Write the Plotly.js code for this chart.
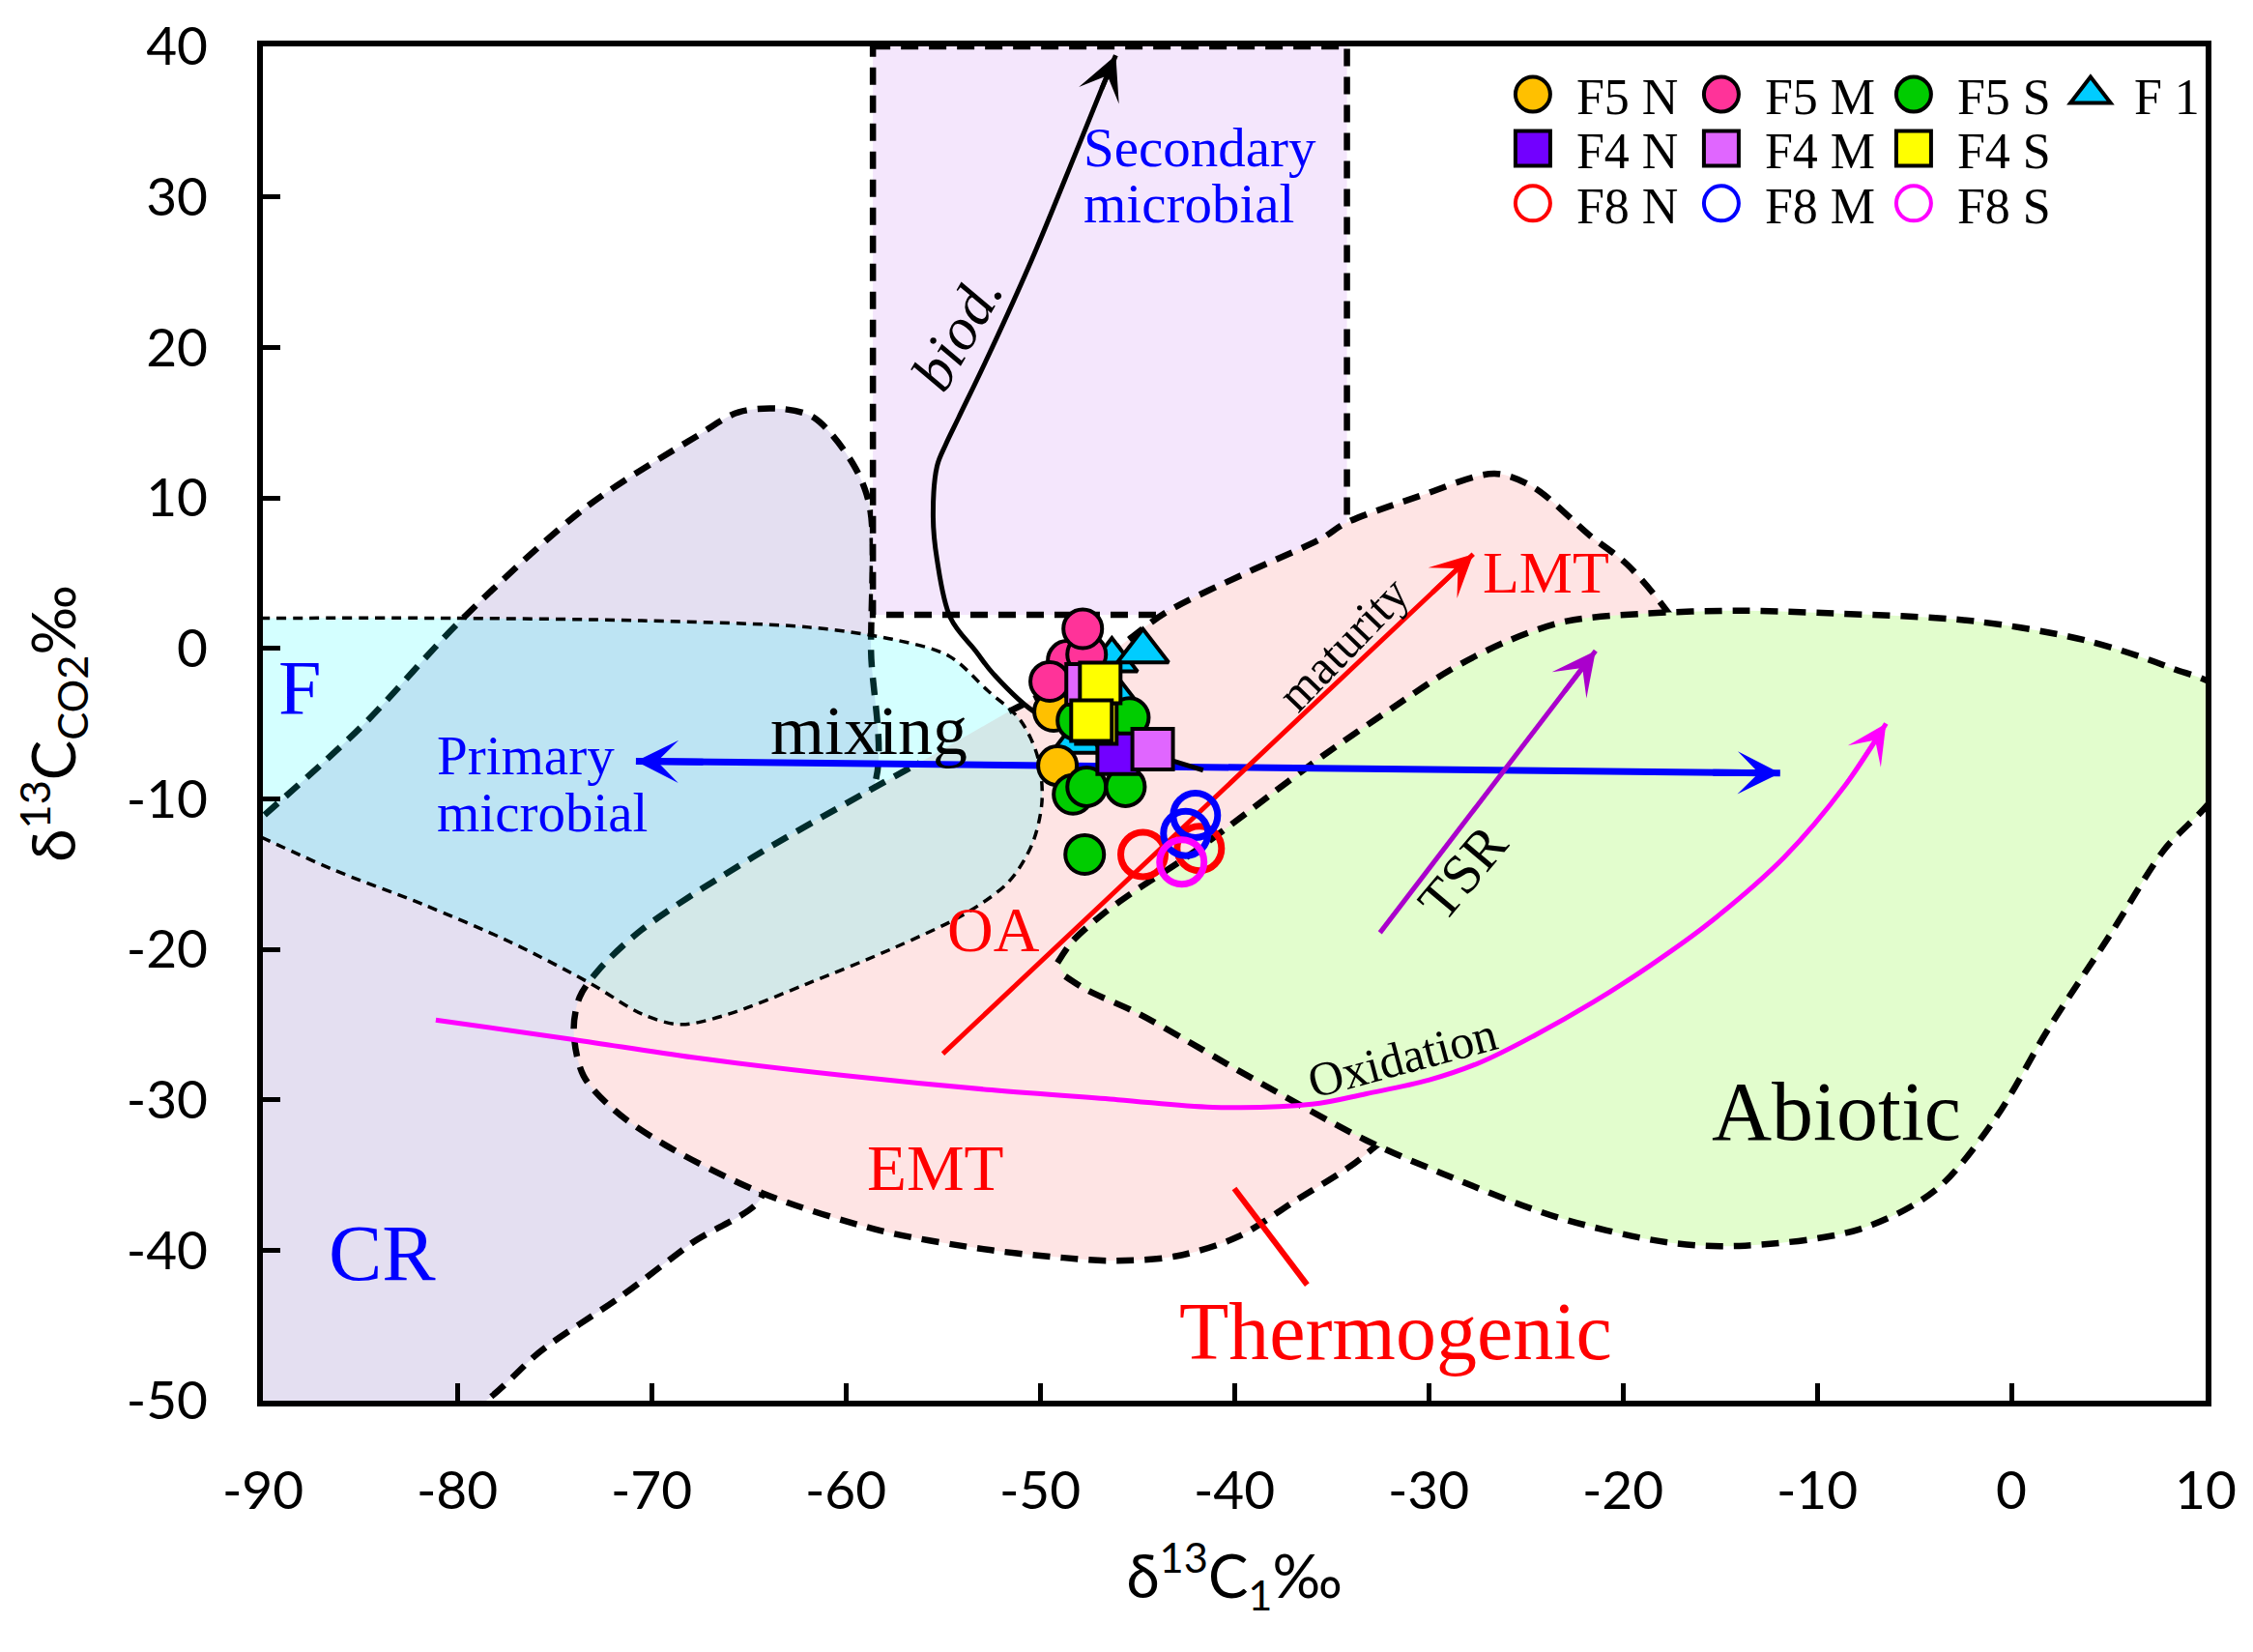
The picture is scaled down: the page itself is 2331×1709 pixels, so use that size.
<!DOCTYPE html>
<html>
<head>
<meta charset="utf-8">
<script src="https://cdn.plot.ly/plotly-3.0.1.min.js"></script>
<style>html,body{margin:0;padding:0;background:#fff}#chart{width:2331px;height:1709px}</style>
</head>
<body>
<div id="chart"></div>
<script>
// ---------------- axis ticks ----------------
const xTickVals = [-90, -80, -70, -60, -50, -40, -30, -20, -10, 0, 10];
const yTickVals = [-50, -40, -30, -20, -10, 0, 10, 20, 30, 40];
const xTickText = xTickVals.map(v => String(v));
const yTickText = yTickVals.map(v => String(v));

// ---------------- sample points (δ13C1, δ13CCO2) ----------------
const f1X  = [-46.3, -46.0, -48.1, -44.7];
const f1Y  = [-0.8, -3.4, -6.2, -0.2];
const f5nX = [-49.3, -49.1];
const f5nY = [-4.2, -7.8];
const f5mX = [-48.6, -49.5, -47.6, -47.8];
const f5mY = [-0.8, -2.2, -0.4, 1.3];
const f5sX = [-48.1, -45.4, -48.3, -47.6, -45.6, -47.7];
const f5sY = [-4.8, -4.6, -9.7, -9.2, -9.2, -13.7];
const f4nX = [-46.0];
const f4nY = [-7.0];
const f4mX = [-47.6, -44.2];
const f4mY = [-2.4, -6.7];
const f4sX = [-47.1, -46.9, -47.35];
const f4sY = [-5.0, -2.3, -4.8];
const f8nX = [-44.7, -41.8];
const f8nY = [-13.7, -13.3];
const f8mX = [-42.0, -42.5];
const f8mY = [-11.1, -12.3];
const f8sX = [-42.7];
const f8sY = [-14.2];

// ---------------- genetic fields (outlines) ----------------
const crX = [-91, -85.0, -79.7, -73.4, -67.6, -65.5, -63.2, -61.6, -59.6, -58.75, -58.7, -58.7, -64, -72, -72, -64.3, -68.0, -71.6, -75.5, -79.9, -91];
const crY = [-12.3, -5.3, 2.0, 9.34, 14.15, 15.7, 15.9, 15.3, 12.2, 9.3, 0, -9.6, -14, -22, -30, -36.2, -39.6, -43.1, -46.5, -51, -51];
const secX = [-58.6, -34.2, -34.2, -58.6, -58.6];
const secY = [40, 40, 2.23, 2.23, 40];
const thermoX = [-51.6, -49.5, -46.0, -43.5, -39.4, -35.5, -34.3, -30.5, -26.6, -24.6, -21.7, -19.8, -17.8, -16.0, -18, -24, -30, -32.3, -34.0, -36.9, -39.8, -43.0, -46.4, -48.8, -52.5, -58.2, -64.3, -69.3, -71.9, -73.5, -74.0, -73.7, -72.8, -70.5, -64.8, -59.0, -56.2];
const thermoY = [-4.2, -2.8, 0.05, 2.4, 5.0, 7.3, 8.3, 10.1, 11.6, 10.7, 7.5, 5.6, 2.6, -1, -12, -24, -31, -32.7, -34.4, -36.75, -39.1, -40.4, -40.7, -40.5, -40.0, -38.7, -36.2, -33.0, -30.7, -28.4, -25.4, -23.2, -21.5, -18.7, -13.9, -9.6, -7.6];
const abioX = [-49.1, -48.35, -46.8, -45.2, -42.6, -40.35, -38.0, -35.5, -31.9, -28.9, -25.9, -22.9, -19.0, -14.0, -9.75, -1.9, 3.9, 8.2, 10.8, 10.8, 7.8, 5.1, 1.9, -0.8, -3.9, -7.8, -13.7, -17.6, -23.4, -29.3, -33.2, -39.05, -44.9, -47.6, -48.7];
const abioY = [-20.9, -19.5, -17.7, -16.2, -14.0, -11.9, -9.6, -7.2, -4.0, -1.45, 0.5, 1.8, 2.3, 2.5, 2.35, 1.8, 0.5, -1.3, -2.9, -9.0, -13.5, -19.0, -25.3, -31.2, -36.0, -38.6, -39.7, -39.5, -37.8, -34.9, -32.7, -28.6, -24.3, -22.7, -21.8];
const fX = [-91, -80, -70.5, -61.9, -57.6, -54.7, -52.7, -51.0, -50.1, -49.9, -50.4, -51.6, -53.8, -57.5, -62, -66, -68.5, -70.5, -73.1, -77.3, -81.8, -86.4, -91];
const fY = [2.0, 2.0, 1.84, 1.4, 0.6, -0.5, -2.8, -4.8, -7.3, -10.2, -13.0, -15.5, -17.6, -19.9, -22.3, -24.3, -25.0, -24.3, -22.3, -19.5, -17.0, -14.7, -12.0];

// ---------------- process trends ----------------
const mixX = [-70.8, -11.9];
const mixY = [-7.5, -8.3];
const matX = [-55.0, -27.7];
const matY = [-26.95, 6.26];
const tsrX = [-32.5, -21.4];
const tsrY = [-18.9, -0.16];
const oxX = [-81.1, -74, -67.8, -60, -52.5, -46, -41.1, -36, -33.2, -30, -27.3, -24.5, -21.5, -18.5, -15.6, -11.7, -8.55, -6.45];
const oxY = [-24.7, -26.0, -27.2, -28.4, -29.35, -30.0, -30.5, -30.3, -29.6, -28.7, -27.5, -25.7, -23.5, -21.0, -18.3, -13.9, -9.1, -5.0];
const biodX = [-41.6, -43.0, -45.0, -47.5, -50.2, -52.4, -53.3, -54.6, -55.3, -55.5, -55.3, -54.85, -54.2, -52.6, -50.4, -48.2, -46.85, -46.1];
const biodY = [-8.1, -7.55, -6.7, -5.6, -4.3, -1.7, -0.2, 2.0, 5.9, 8.7, 12.1, 13.55, 15.3, 19.6, 25.9, 32.8, 37.1, 39.4];
const ptrX = [-40.0, -36.25];
const ptrY = [-35.9, -42.3];

// ---------------- text labels ----------------
const labelText  = ['Secondary', 'microbial', 'Primary', 'microbial', 'mixing', 'F', 'CR', 'OA', 'EMT', 'Thermogenic', 'Abiotic', 'LMT', 'maturity', 'TSR', 'Oxidation', '<i>biod.</i>'];
const labelX     = [-47.85, -47.85, -81.13, -81.13, -58.8, -88.1, -83.85, -52.4, -55.4, -31.7, -9.0, -23.96, -34.4, -28.24, -31.35, -54.3];
const labelY     = [33.26, 29.54, -7.11, -10.93, -5.5, -2.65, -40.2, -18.7, -34.5, -45.4, -30.76, 5.08, 0.3, -14.9, -27.2, 21.0];
const labelColor = ['#0000ff', '#0000ff', '#0000ff', '#0000ff', '#000', '#0000ff', '#0000ff', '#ff0000', '#ff0000', '#ff0000', '#000', '#ff0000', '#000', '#000', '#000', '#000'];
const labelSize  = [57, 57, 57, 57, 72, 80, 83, 66, 67, 84, 86, 62, 50, 58, 50, 62];
const labelAngle = [0, 0, 0, 0, 0, 0, 0, 0, 0, 0, 0, 0, -46, -50, -15, -60];
const labelAnchor = ['left', 'left', 'left', 'left', 'center', 'center', 'center', 'center', 'center', 'center', 'center', 'center', 'center', 'center', 'center', 'center'];

// ================= build =================
const DASH = '18px,11px';
function region(x, y, fill, lw, dash, shape) {
  return {x: x, y: y, type: 'scatter', mode: 'lines', fill: 'toself', fillcolor: fill,
    line: {color: '#000', width: lw, dash: dash, shape: shape, smoothing: 0.9},
    hoverinfo: 'skip', showlegend: false};
}
function path(x, y, color, w, shape) {
  return {x: x, y: y, type: 'scatter', mode: 'lines',
    line: {color: color, width: w, shape: shape || 'linear', smoothing: 1},
    hoverinfo: 'skip', showlegend: false};
}
function pts(name, x, y, symbol, color, size, legend, rank, lw, lineColor) {
  return {x: x, y: y, name: name, type: 'scatter', mode: 'markers', legend: legend, legendrank: rank,
    marker: {symbol: symbol, color: color, size: size, line: {color: lineColor || '#000', width: lw}},
    cliponaxis: false, hoverinfo: 'skip'};
}

const traces = [
  region(crX, crY, '#e4dff1', 6.5, DASH, 'spline'),
  region(secX, secY, '#f4e6fc', 6.5, DASH, 'linear'),
  region(thermoX, thermoY, '#fee4e4', 6.5, DASH, 'spline'),
  region(abioX, abioY, '#e2fdcd', 6.5, DASH, 'spline'),
  region(fX, fY, 'rgba(0,255,255,0.17)', 3.5, '10px,7px', 'spline'),
  path(mixX, mixY, '#0000ff', 7),
  path(matX, matY, '#ff0000', 5),
  path(tsrX, tsrY, '#aa00cc', 5),
  path(oxX, oxY, '#ff00ff', 5, 'spline'),
  path(biodX, biodY, '#000000', 5, 'spline'),
  path(ptrX, ptrY, '#ff0000', 6),
  pts('F 1', f1X, f1Y, 'triangle-up', '#00ccff', 46, 'legend', 4, 4),
  pts('F5 N', f5nX, f5nY, 'circle', '#ffc000', 40, 'legend', 1, 4),
  pts('F5 M', f5mX, f5mY, 'circle', '#ff3399', 40, 'legend', 2, 4),
  pts('F5 S', f5sX, f5sY, 'circle', '#00cc00', 40, 'legend', 3, 4),
  pts('F4 N', f4nX, f4nY, 'square', '#7200ff', 42, 'legend2', 1, 4),
  pts('F4 M', f4mX, f4mY, 'square', '#e066ff', 42, 'legend2', 2, 4),
  pts('F4 S', f4sX, f4sY, 'square', '#ffff00', 42, 'legend2', 3, 4),
  pts('F8 N', f8nX, f8nY, 'circle-open', '#ff0000', 46, 'legend3', 1, 7, '#ff0000'),
  pts('F8 M', f8mX, f8mY, 'circle-open', '#0000ff', 46, 'legend3', 2, 7, '#0000ff'),
  pts('F8 S', f8sX, f8sY, 'circle-open', '#ff00ff', 46, 'legend3', 3, 7, '#ff00ff')
];
// per-entry widths so that legend columns line up
const entryW = {'F5 N': 100, 'F5 M': 104, 'F5 S': 88, 'F 1': 90, 'F4 N': 100, 'F4 M': 104, 'F4 S': 110, 'F8 N': 100, 'F8 M': 104, 'F8 S': 110};
traces.forEach(t => { if (t.name) t.legendwidth = entryW[t.name]; });

// arrow heads (annotation arrows along the last stretch of each trend line)
const annotations = [];
function head(x, y, px, py, color, w, size) {
  annotations.push({x: x, y: y, ax: px, ay: py, xref: 'x', yref: 'y', axref: 'x', ayref: 'y',
    text: '', showarrow: true, arrowhead: 3, arrowsize: size, arrowwidth: w, arrowcolor: color,
    standoff: 0, startstandoff: 0});
}
function backPt(x0, y0, x1, y1, f) { return [x1 + (x0 - x1) * f, y1 + (y0 - y1) * f]; }
let b;
b = backPt(mixX[0], mixY[0], mixX[1], mixY[1], 0.06); head(mixX[1], mixY[1], b[0], b[1], '#0000ff', 7, 1.05);
b = backPt(mixX[1], mixY[1], mixX[0], mixY[0], 0.06); head(mixX[0], mixY[0], b[0], b[1], '#0000ff', 7, 1.05);
b = backPt(matX[0], matY[0], matX[1], matY[1], 0.08); head(matX[1], matY[1], b[0], b[1], '#ff0000', 5, 1.45);
b = backPt(tsrX[0], tsrY[0], tsrX[1], tsrY[1], 0.15); head(tsrX[1], tsrY[1], b[0], b[1], '#aa00cc', 5, 1.5);
let n = oxX.length; head(oxX[n - 1], oxY[n - 1], oxX[n - 2], oxY[n - 2], '#ff00ff', 4, 1.7);
n = biodX.length; head(biodX[n - 1], biodY[n - 1], biodX[n - 2], biodY[n - 2], '#000000', 5, 1.5);

labelText.forEach((t, i) => {
  annotations.push({x: labelX[i], y: labelY[i], xref: 'x', yref: 'y', text: t, showarrow: false,
    textangle: labelAngle[i], xanchor: labelAnchor[i], yanchor: 'middle',
    font: {family: 'Liberation Serif', size: labelSize[i], color: labelColor[i]}});
});

const legBase = {orientation: 'h', xanchor: 'left', yanchor: 'middle', bgcolor: 'rgba(0,0,0,0)', borderwidth: 0,
  font: {family: 'Liberation Serif', size: 52, color: '#000'}, itemwidth: 80, itemsizing: 'constant',
  tracegroupgap: 0, entrywidthmode: 'pixels', x: 0.6313};

const axisCommon = {showline: true, linewidth: 6, linecolor: '#000', mirror: true, ticks: 'inside', ticklen: 18,
  tickwidth: 5, tickcolor: '#000', showgrid: false, zeroline: false, automargin: false, fixedrange: true,
  tickfont: {family: 'Lato', size: 55, color: '#000'}};

const layout = {
  width: 2331, height: 1709,
  margin: {l: 272, r: 49, t: 48, b: 260},
  paper_bgcolor: '#ffffff', plot_bgcolor: '#ffffff',
  font: {family: 'Liberation Serif', color: '#000'},
  xaxis: Object.assign({}, axisCommon, {range: [-90, 10], tickvals: xTickVals, ticktext: xTickText, ticklabelstandoff: 40,
    title: {text: 'δ<sup>13</sup>C<sub>1</sub>‰', font: {family: 'Lato', size: 62, color: '#000'}, standoff: 40}}),
  yaxis: Object.assign({}, axisCommon, {range: [-50, 40], tickvals: yTickVals, ticktext: yTickText, ticklabelstandoff: 40,
    title: {text: 'δ<sup>13</sup>C<sub>CO2</sub>‰', font: {family: 'Lato', size: 62, color: '#000'}, standoff: 34}}),
  legend: Object.assign({}, legBase, {y: 0.9645}),
  legend2: Object.assign({}, legBase, {y: 0.9245}),
  legend3: Object.assign({}, legBase, {y: 0.8840}),
  annotations: annotations,
  showlegend: true
};

Plotly.newPlot('chart', traces, layout, {staticPlot: true, displayModeBar: false}).then(gd => {
  gd.querySelectorAll('g.legendpoints path.scatterpts').forEach(p => {
    const t = p.getAttribute('transform') || '';
    p.setAttribute('transform', t + ' scale(3)');
    p.style.vectorEffect = 'non-scaling-stroke';
    p.style.strokeWidth = '4px';
  });
});
</script>
</body>
</html>
